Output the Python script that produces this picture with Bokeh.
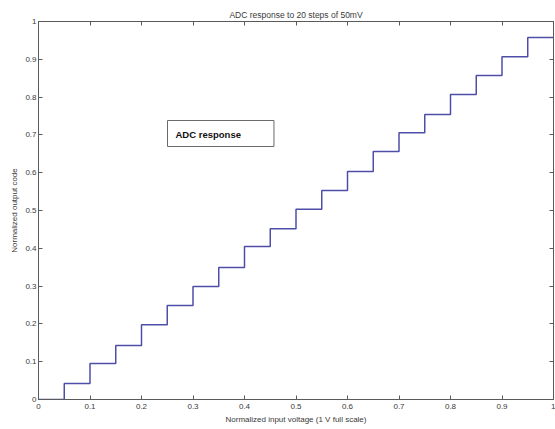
from bokeh.plotting import figure
from bokeh.models import LinearAxis, Label, Range1d, FixedTicker, Title
from bokeh.embed import file_html
from bokeh.resources import INLINE

# Normalized input voltage at each step edge
input_voltage = [0.0, 0.05, 0.10, 0.15, 0.20, 0.25, 0.30, 0.35, 0.40, 0.45,
                 0.50, 0.55, 0.60, 0.65, 0.70, 0.75, 0.80, 0.85, 0.90, 0.95, 1.0]
# Normalized output code held from each edge to the next
output_code = [0.0, 0.042, 0.095, 0.143, 0.198, 0.249, 0.299, 0.349, 0.405, 0.452,
               0.503, 0.553, 0.603, 0.656, 0.706, 0.754, 0.807, 0.857, 0.907, 0.958, 0.958]

x_ticks = [0, 0.1, 0.2, 0.3, 0.4, 0.5, 0.6, 0.7, 0.8, 0.9, 1.0]
y_ticks = [0, 0.1, 0.2, 0.3, 0.4, 0.5, 0.6, 0.7, 0.8, 0.9, 1.0]
tick_labels = {0: "0", 0.1: "0.1", 0.2: "0.2", 0.3: "0.3", 0.4: "0.4", 0.5: "0.5",
               0.6: "0.6", 0.7: "0.7", 0.8: "0.8", 0.9: "0.9", 1.0: "1"}

FONT = "Liberation Sans"
AX = "#5a5a5a"
TXT = "#3a3a3a"

p = figure(width=555, height=429, output_backend="svg", toolbar_location=None,
           x_range=Range1d(0, 1), y_range=Range1d(0, 1),
           x_axis_location=None, y_axis_location=None,
           min_border_left=38, min_border_right=2, min_border_top=21, min_border_bottom=30)
p.xgrid.visible = False
p.ygrid.visible = False
p.outline_line_color = AX
p.outline_line_width = 1
p.background_fill_color = "white"
p.border_fill_color = "white"

def style(axis, labels=True):
    axis.axis_line_color = AX
    axis.major_tick_line_color = AX
    axis.minor_tick_line_color = None
    axis.major_tick_in = 4
    axis.major_tick_out = 0
    axis.major_label_text_font = FONT
    axis.major_label_text_color = TXT if labels else None
    axis.major_label_text_font_size = "8px" if labels else "1px"
    axis.major_label_standoff = 2
    axis.axis_label_text_font = FONT
    axis.axis_label_text_font_size = "8px"
    axis.axis_label_text_font_style = "normal"
    axis.axis_label_text_color = TXT
    axis.axis_label_standoff = 3

bottom = LinearAxis(ticker=FixedTicker(ticks=x_ticks),
                    axis_label="Normalized input voltage (1 V full scale)")
bottom.major_label_overrides = tick_labels
style(bottom)
bottom.major_label_standoff = 4
p.add_layout(bottom, "below")

left = LinearAxis(ticker=FixedTicker(ticks=y_ticks), axis_label="Normalized output code")
left.major_label_overrides = tick_labels
style(left)
p.add_layout(left, "left")

top = LinearAxis(ticker=FixedTicker(ticks=x_ticks))
style(top, labels=False)
top.major_label_standoff = 0
p.add_layout(top, "above")

right = LinearAxis(ticker=FixedTicker(ticks=y_ticks))
style(right, labels=False)
right.major_label_standoff = 0
p.add_layout(right, "right")

t = Title(text="ADC response to 20 steps of 50mV", align="center",
          text_font=FONT, text_font_size="8.5px", text_font_style="normal",
          text_color=TXT, offset=0, standoff=4)
p.add_layout(t, "above")

p.step(input_voltage, output_code, mode="after", line_color="#4e4ea8", line_width=1.5)

box = Label(x=129, y=266, x_units="screen", y_units="screen",
            text="ADC response", text_font=FONT, text_font_size="9.5px",
            text_font_style="bold", text_color="#111111",
            text_baseline="middle",
            border_line_color="#6a6a6a", border_line_width=1,
            background_fill_color="white", padding=(8, 33, 8, 7))
p.add_layout(box)

open("out.html", "w").write(file_html(p, INLINE))
